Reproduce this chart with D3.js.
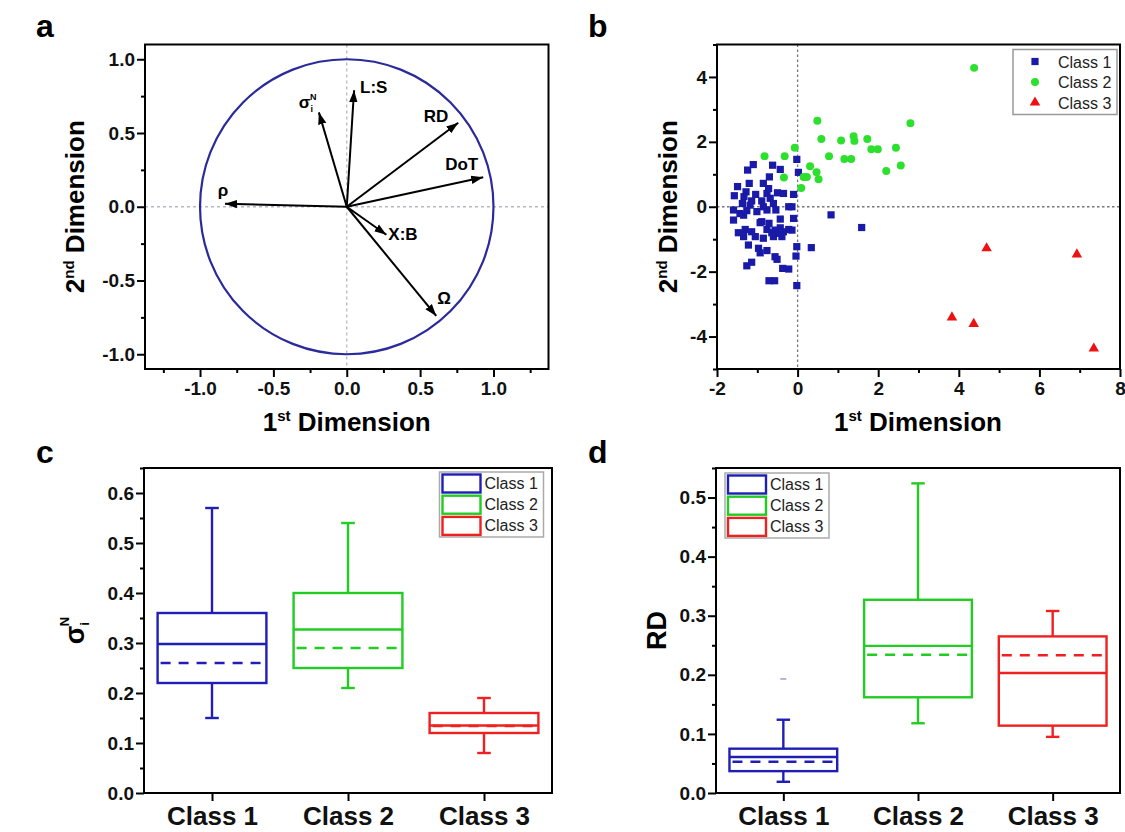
<!DOCTYPE html>
<meta charset="utf-8">
<style>
body { margin: 0; background: #fff; }
svg text { font-family: "Liberation Sans", Arial, sans-serif; }
.tick text { font-weight: bold; font-size: 19px; fill: #111; }
.domain { display: none; }
.tick line { stroke: #000; stroke-width: 2px; }
</style>
<svg width="1125" height="832"></svg>
<script src="https://d3js.org/d3.v7.min.js"></script>
<script>

// ---- panel a : loadings ----
var loadNames = ["ρ", "σ", "L:S", "RD", "DoT", "X:B", "Ω"];
var loadX = [-0.83, -0.19, 0.05, 0.76, 0.93, 0.27, 0.61];
var loadY = [0.02, 0.64, 0.79, 0.57, 0.20, -0.19, -0.74];

// ---- panel b : scores ----
var class1X = [-0.02,-1.10,-1.24,-0.62,-0.43,0.02,-0.70,-0.85,-1.20,-1.49,-1.28,-1.57,-1.33,-1.04,-0.76,-0.50,-0.35,-0.10,-1.14,-0.89,-0.68,-0.60,-1.18,-1.59,-1.43,-1.26,-0.85,-0.76,-0.54,-0.22,-0.14,-1.59,-1.34,-0.93,-0.89,-0.43,-0.10,-1.47,-1.30,-1.14,-0.76,-0.64,-0.56,-0.43,-0.35,-0.22,-0.14,-1.34,-1.05,-0.85,-0.60,-1.22,-0.97,-0.93,-0.76,-0.56,-0.51,-0.02,0.34,-0.04,-1.26,-1.14,-0.37,-0.22,-0.71,-0.57,-0.02,0.83,1.59,-0.47,-0.39,-0.71,-1.01,-1.37,-0.72];
var class1Y = [1.46,1.30,1.13,1.28,1.15,1.06,0.92,0.72,0.72,0.62,0.46,0.34,0.31,0.38,0.41,0.43,0.41,0.38,0.18,0.18,0.26,0.10,0.05,-0.10,-0.21,-0.12,0.00,-0.10,-0.10,0.00,0.00,-0.41,-0.26,-0.49,-0.46,-0.38,-0.36,-0.80,-0.70,-0.77,-0.70,-0.80,-0.72,-0.65,-0.77,-0.70,-0.72,-0.92,-0.92,-0.97,-0.92,-1.18,-1.28,-1.42,-1.35,-1.54,-1.62,-1.23,-1.26,-1.52,-1.82,-1.71,-1.90,-1.92,-2.28,-2.28,-2.43,-0.25,-0.64,-0.82,-0.92,-0.51,-0.15,0.10,0.56];
var class2X = [4.38,0.49,2.80,0.59,1.08,1.39,1.41,1.73,1.83,1.99,2.44,-0.07,-0.82,-0.32,0.78,1.16,1.33,0.31,2.56,2.20,0.47,0.15,0.23,0.52,-0.34,0.09];
var class2Y = [4.28,2.65,2.57,2.09,2.04,2.17,2.03,2.09,1.77,1.77,1.82,1.82,1.56,1.56,1.56,1.47,1.47,1.25,1.27,1.10,1.06,0.92,0.92,0.85,0.90,0.58];
var class3X = [4.69, 6.93, 3.83, 4.37, 7.35];
var class3Y = [-1.28, -1.47, -3.41, -3.61, -4.37];

// ---- panels c, d : box plots ----
var classes = ["Class 1", "Class 2", "Class 3"];
var sigmaLow = [0.15, 0.21, 0.08];
var sigmaQ1 = [0.22, 0.25, 0.12];
var sigmaMedian = [0.298, 0.327, 0.135];
var sigmaMean = [0.26, 0.29, 0.134];
var sigmaQ3 = [0.36, 0.40, 0.16];
var sigmaHigh = [0.57, 0.54, 0.19];

var rdLow = [0.019, 0.118, 0.095];
var rdQ1 = [0.037, 0.162, 0.114];
var rdMedian = [0.061, 0.249, 0.203];
var rdMean = [0.053, 0.234, 0.233];
var rdQ3 = [0.075, 0.327, 0.265];
var rdHigh = [0.124, 0.524, 0.308];
var rdOutlier = [0.193, null, null];

var classColor = ["#1f1fb8", "#22cc22", "#ee2020"];
var dotColor = ["#1a1aa8", "#2ee02e", "#ee1111"];

var svg = d3.select("svg");

function panel(left, top, right, bottom) {
  return svg.append("g").attr("transform", "translate(" + left + "," + top + ")")
    .datum({w: right - left, h: bottom - top});
}

function axes(g, x, y, xMajor, xMinor, yMajor, yMinor, xFmt, yFmt, xSize) {
  var w = g.datum().w, h = g.datum().h;
  g.append("g").attr("transform", "translate(0," + h + ")")
    .call(d3.axisBottom(x).tickValues(xMinor).tickSize(4).tickFormat(""));
  var xa = g.append("g").attr("transform", "translate(0," + h + ")")
    .call(d3.axisBottom(x).tickValues(xMajor).tickSize(8).tickPadding(5).tickFormat(xFmt));
  if (xSize) xa.selectAll("text").style("font-size", xSize + "px").attr("dy", "0.72em");
  g.append("g").call(d3.axisLeft(y).tickValues(yMinor).tickSize(4).tickFormat(""));
  g.append("g").call(d3.axisLeft(y).tickValues(yMajor).tickSize(8).tickPadding(2).tickFormat(yFmt));
  g.append("rect").attr("width", w).attr("height", h)
    .attr("fill", "none").attr("stroke", "#000").attr("stroke-width", 2);
}

function letter(x, y, t) {
  svg.append("text").attr("x", x).attr("y", y).text(t)
    .style("font-size", "32px").style("font-weight", "bold");
}

function dimTitle(parent, x, y, num, sup, rotate) {
  var t = parent.append("text")
    .attr("transform", "translate(" + x + "," + y + ")" + (rotate ? " rotate(-90)" : ""))
    .attr("text-anchor", "middle").style("font-size", "26px").style("font-weight", "bold");
  t.append("tspan").text(num);
  t.append("tspan").text(sup).style("font-size", "15px").attr("dy", -10);
  t.append("tspan").text(" Dimension").attr("dy", 10);
}

// hyphen minus like the original
var fmt1 = function(d) { return d3.format(".1f")(d).replace("\u2212", "-"); };
var fmtInt = function(d) { return d3.format("d")(d).replace("\u2212", "-"); };

// ================= a =================
var ga = panel(145, 44.5, 548.5, 369);
var xa = d3.scaleLinear().domain([-1.375, 1.375]).range([0, ga.datum().w]);
var ya = d3.scaleLinear().domain([-1.1, 1.1]).range([ga.datum().h, 0]);

ga.append("line").attr("x1", xa(0)).attr("x2", xa(0)).attr("y1", 0).attr("y2", ga.datum().h)
  .attr("stroke", "#b8b8c4").attr("stroke-width", 1.3).attr("stroke-dasharray", "3,3");
ga.append("line").attr("y1", ya(0)).attr("y2", ya(0)).attr("x1", 0).attr("x2", ga.datum().w)
  .attr("stroke", "#b8b8c4").attr("stroke-width", 1.3).attr("stroke-dasharray", "3,3");

ga.append("ellipse").attr("cx", xa(0)).attr("cy", ya(0))
  .attr("rx", xa(1) - xa(0)).attr("ry", ya(0) - ya(1))
  .attr("fill", "none").attr("stroke", "#2a2a9c").attr("stroke-width", 2.2);

svg.append("defs").append("marker").attr("id", "head")
  .attr("viewBox", "0 0 10 10").attr("refX", 10).attr("refY", 5)
  .attr("markerWidth", 12).attr("markerHeight", 12).attr("markerUnits", "userSpaceOnUse")
  .attr("orient", "auto")
  .append("path").attr("d", "M0,1.5L10,5L0,8.5Z").attr("fill", "#000");

ga.selectAll(".vec").data(loadNames).enter().append("line")
  .attr("x1", xa(0)).attr("y1", ya(0))
  .attr("x2", function(d, i) { return xa(loadX[i]); })
  .attr("y2", function(d, i) { return ya(loadY[i]); })
  .attr("stroke", "#000").attr("stroke-width", 2).attr("marker-end", "url(#head)");

// label nudges (px) and anchors
var nudge = [[-2, -8, "middle"], [-20, -4, "start"], [6, 3, "start"], [-10, -1, "end"],
             [-5, -7, "end"], [2, 5, "start"], [1, -12, "start"]];
ga.selectAll(".lab").data(loadNames).enter().append("text")
  .attr("x", function(d, i) { return xa(loadX[i]) + nudge[i][0]; })
  .attr("y", function(d, i) { return ya(loadY[i]) + nudge[i][1]; })
  .attr("text-anchor", function(d, i) { return nudge[i][2]; })
  .style("font-size", "17px").style("font-weight", "bold")
  .each(function(d) {
    var t = d3.select(this);
    t.append("tspan").text(d);
    if (d == "σ") {
      t.append("tspan").text("i").style("font-size", "9px").attr("dy", 4);
      t.append("tspan").text("N").style("font-size", "9px").attr("dx", -3).attr("dy", -12);
    }
  });

axes(ga, xa, ya, [-1, -0.5, 0, 0.5, 1], [-1.25, -0.75, -0.25, 0.25, 0.75, 1.25],
     [-1, -0.5, 0, 0.5, 1], [-0.75, -0.25, 0.25, 0.75], fmt1, fmt1);
dimTitle(svg, 346.7, 431, "1", "st", false);
dimTitle(svg, 84, 206.7, "2", "nd", true);
letter(36, 37, "a");

// ================= b =================
var gb = panel(717, 44.5, 1120, 369);
var xb = d3.scaleLinear().domain([-2, 8]).range([0, gb.datum().w]);
var yb = d3.scaleLinear().domain([-5, 5]).range([gb.datum().h, 0]);

gb.append("line").attr("x1", xb(0)).attr("x2", xb(0)).attr("y1", 0).attr("y2", gb.datum().h)
  .attr("stroke", "#777").attr("stroke-width", 1.3).attr("stroke-dasharray", "2.5,2.5");
gb.append("line").attr("y1", yb(0)).attr("y2", yb(0)).attr("x1", 0).attr("x2", gb.datum().w)
  .attr("stroke", "#777").attr("stroke-width", 1.3).attr("stroke-dasharray", "2.5,2.5");

var sq = d3.symbol().type(d3.symbolSquare).size(52);
var ci = d3.symbol().type(d3.symbolCircle).size(50);
var tr = d3.symbol().type(d3.symbolTriangle).size(48);

gb.selectAll(".c1").data(class1X).enter().append("path").attr("d", sq)
  .attr("transform", function(d, i) { return "translate(" + xb(d) + "," + yb(class1Y[i]) + ")"; })
  .attr("fill", dotColor[0]);
gb.selectAll(".c2").data(class2X).enter().append("path").attr("d", ci)
  .attr("transform", function(d, i) { return "translate(" + xb(d) + "," + yb(class2Y[i]) + ")"; })
  .attr("fill", dotColor[1]);
gb.selectAll(".c3").data(class3X).enter().append("path").attr("d", tr)
  .attr("transform", function(d, i) { return "translate(" + xb(d) + "," + yb(class3Y[i]) + ")"; })
  .attr("fill", dotColor[2]);

axes(gb, xb, yb, [-2, 0, 2, 4, 6, 8], [-1, 1, 3, 5, 7],
     [-4, -2, 0, 2, 4], [-5, -3, -1, 1, 3, 5], fmtInt, fmtInt);

var lb = svg.append("g").attr("transform", "translate(1013,49.5)");
lb.append("rect").attr("width", 104).attr("height", 65)
  .attr("fill", "#fff").attr("stroke", "#999").attr("stroke-width", 1.5);
[sq, ci, tr].forEach(function(s, i) {
  lb.append("path").attr("d", s).attr("fill", dotColor[i])
    .attr("transform", "translate(22," + (12 + i * 20.5) + ")");
  lb.append("text").attr("x", 45).attr("y", 12 + i * 20.5 + 6).text(classes[i])
    .style("font-size", "16px").attr("fill", "#222");
});

dimTitle(svg, 918, 431, "1", "st", false);
dimTitle(svg, 677, 206.7, "2", "nd", true);
letter(588, 37, "b");

// ================= box plots =================
function boxPanel(g, y, low, q1, med, mean, q3, high, outlier, yMajor, yMinor) {
  var x = d3.scaleLinear().domain([0.5, 3.5]).range([0, g.datum().w]);
  var bw = x(1.4) - x(1), cap = x(1.05) - x(1);
  classes.forEach(function(c, i) {
    var cx = x(i + 1), col = classColor[i];
    var b = g.append("g").attr("stroke", col).attr("stroke-width", 2.4).attr("fill", "none");
    b.append("line").attr("x1", cx).attr("x2", cx).attr("y1", y(q3[i])).attr("y2", y(high[i]));
    b.append("line").attr("x1", cx).attr("x2", cx).attr("y1", y(q1[i])).attr("y2", y(low[i]));
    b.append("line").attr("x1", cx - cap).attr("x2", cx + cap).attr("y1", y(high[i])).attr("y2", y(high[i]));
    b.append("line").attr("x1", cx - cap).attr("x2", cx + cap).attr("y1", y(low[i])).attr("y2", y(low[i]));
    b.append("line").attr("x1", cx - bw).attr("x2", cx + bw).attr("y1", y(mean[i])).attr("y2", y(mean[i]))
      .attr("stroke-dasharray", "10,8").attr("stroke-dashoffset", -3);
    b.append("rect").attr("x", cx - bw).attr("width", 2 * bw)
      .attr("y", y(q3[i])).attr("height", y(q1[i]) - y(q3[i]));
    b.append("line").attr("x1", cx - bw).attr("x2", cx + bw).attr("y1", y(med[i])).attr("y2", y(med[i]));
    if (outlier && outlier[i] != null)
      g.append("line").attr("x1", cx - 3).attr("x2", cx + 3).attr("y1", y(outlier[i])).attr("y2", y(outlier[i]))
        .attr("stroke", "#9a9ad8").attr("stroke-width", 1.5);
  });
  axes(g, x, y, [1, 2, 3], [], yMajor, yMinor,
       function(d) { return classes[d - 1]; }, fmt1, 26);
}

function boxLegend(x0, y0) {
  var l = svg.append("g").attr("transform", "translate(" + x0 + "," + y0 + ")");
  l.append("rect").attr("width", 104).attr("height", 65)
    .attr("fill", "#fff").attr("stroke", "#aaa").attr("stroke-width", 1.5);
  classes.forEach(function(c, i) {
    l.append("rect").attr("x", 3).attr("y", 2.5 + i * 21.2).attr("width", 38).attr("height", 18)
      .attr("fill", "none").attr("stroke", classColor[i]).attr("stroke-width", 2.4);
    l.append("text").attr("x", 45).attr("y", 17 + i * 21.2).text(c)
      .style("font-size", "16px").attr("fill", "#222");
  });
}

// ================= c =================
var gc = panel(144, 468, 552, 793);
var yc = d3.scaleLinear().domain([0, 0.65]).range([gc.datum().h, 0]);
boxPanel(gc, yc, sigmaLow, sigmaQ1, sigmaMedian, sigmaMean, sigmaQ3, sigmaHigh, null,
         d3.range(0, 0.61, 0.1), d3.range(0.05, 0.66, 0.1));
boxLegend(439.5, 472);
var sl = svg.append("text").attr("transform", "translate(84,630.5) rotate(-90)")
  .attr("text-anchor", "middle").style("font-weight", "bold").style("font-size", "27px");
sl.append("tspan").text("σ");
sl.append("tspan").text("i").style("font-size", "13px").attr("dy", 5);
sl.append("tspan").text("N").style("font-size", "13px").attr("dx", -4).attr("dy", -20);
letter(36, 463, "c");

// ================= d =================
var gd = panel(716, 468, 1120, 793);
var yd = d3.scaleLinear().domain([0, 0.55]).range([gd.datum().h, 0]);
boxPanel(gd, yd, rdLow, rdQ1, rdMedian, rdMean, rdQ3, rdHigh, rdOutlier,
         d3.range(0, 0.51, 0.1), d3.range(0.05, 0.56, 0.1));
boxLegend(725, 473);
svg.append("text").attr("transform", "translate(666,630.5) rotate(-90)")
  .attr("text-anchor", "middle").style("font-weight", "bold").style("font-size", "27px").text("RD");
letter(588, 463, "d");

</script>
